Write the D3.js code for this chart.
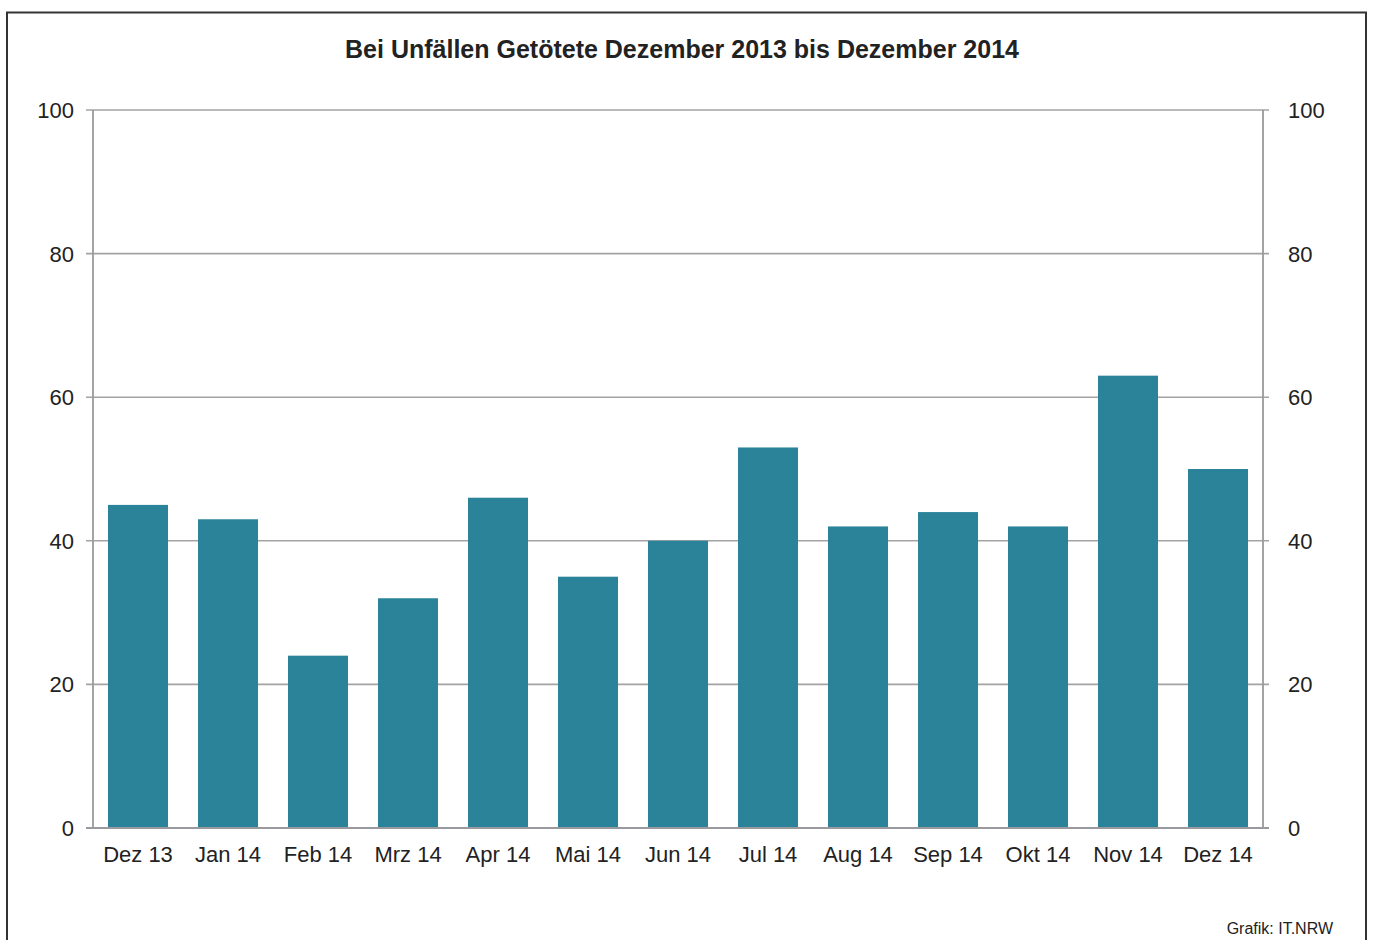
<!DOCTYPE html>
<html><head><meta charset="utf-8">
<script src="https://cdn.jsdelivr.net/npm/d3@7"></script>
<style>
body{margin:0;background:#fff;}
svg{display:block;font-family:"Liberation Sans",Arial,sans-serif;}
</style></head>
<body><svg id="c" width="1373" height="940"></svg>
<script>
const categories = ["Dez 13","Jan 14","Feb 14","Mrz 14","Apr 14","Mai 14","Jun 14","Jul 14","Aug 14","Sep 14","Okt 14","Nov 14","Dez 14"];
const values = [45,43,24,32,46,35,40,53,42,44,42,63,50];
const yTicks = [0,20,40,60,80,100];
const title = "Bei Unfällen Getötete Dezember 2013 bis Dezember 2014";
const source = "Grafik: IT.NRW";

const svg = d3.select("#c");
svg.append("rect").attr("x",7).attr("y",12.5).attr("width",1359).attr("height",940)
  .attr("fill","none").attr("stroke","#333").attr("stroke-width",2);

const x = d3.scaleBand().domain(categories).range([93,1263]).paddingInner(1/3).paddingOuter(1/6);
const y = d3.scaleLinear().domain([0,100]).range([828,110]);

svg.append("g").selectAll("line").data(yTicks).join("line")
  .attr("x1",86).attr("x2",1269).attr("y1",d=>y(d)).attr("y2",d=>y(d))
  .attr("stroke","#a3a3a3").attr("stroke-width",1.6);

svg.append("g").selectAll("rect").data(values).join("rect")
  .attr("x",(d,i)=>x(categories[i])).attr("width",x.bandwidth())
  .attr("y",d=>y(d)).attr("height",d=>y(0)-y(d)).attr("fill","#2a8399");

svg.append("line").attr("x1",93).attr("x2",93).attr("y1",110).attr("y2",828).attr("stroke","#9a9a9e").attr("stroke-width",1.8);
svg.append("line").attr("x1",1263).attr("x2",1263).attr("y1",110).attr("y2",828).attr("stroke","#9a9a9e").attr("stroke-width",1.8);
svg.append("line").attr("x1",86).attr("x2",1269).attr("y1",828).attr("y2",828).attr("stroke","#9a9a9e").attr("stroke-width",2);

svg.append("g").selectAll("text").data(yTicks).join("text")
  .attr("x",74).attr("y",d=>y(d)+8).attr("text-anchor","end")
  .attr("font-size",22).attr("fill","#222").text(d=>d);
svg.append("g").selectAll("text").data(yTicks).join("text")
  .attr("x",1288).attr("y",d=>y(d)+8).attr("text-anchor","start")
  .attr("font-size",22).attr("fill","#222").text(d=>d);
svg.append("g").selectAll("text").data(categories).join("text")
  .attr("x",d=>x(d)+x.bandwidth()/2).attr("y",862).attr("text-anchor","middle")
  .attr("font-size",22).attr("fill","#222").text(d=>d);

svg.append("text").attr("x",682).attr("y",58).attr("text-anchor","middle")
  .attr("font-size",25).attr("font-weight","bold").attr("fill","#222").text(title);
svg.append("text").attr("x",1333).attr("y",934).attr("text-anchor","end")
  .attr("font-size",16).attr("fill","#222").text(source);
</script></body></html>
